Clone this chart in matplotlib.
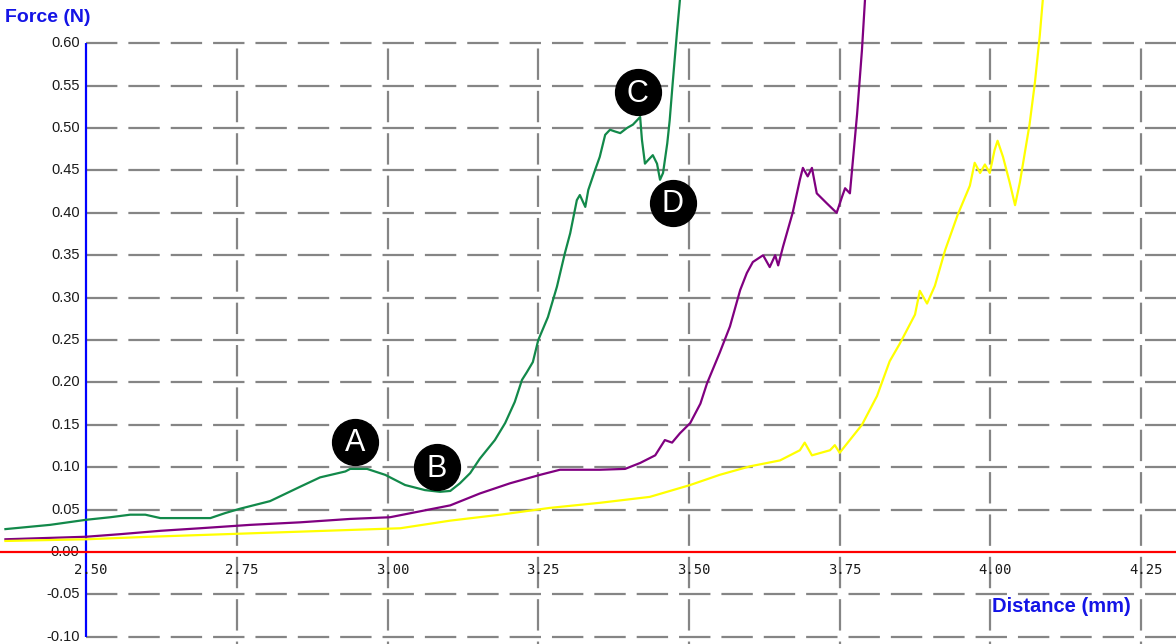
import matplotlib
matplotlib.use("Agg")
import matplotlib.pyplot as plt
import numpy as np

plt.rcParams['font.family'] = ['Liberation Sans', 'DejaVu Sans']
plt.rcParams['lines.scale_dashes'] = False

# force-distance traces (distance in mm, force in N)
green_pts = [
    (2.366, 0.027), (2.440, 0.032), (2.500, 0.038), (2.540, 0.041), (2.573, 0.044),
    (2.598, 0.044), (2.623, 0.040), (2.656, 0.040), (2.706, 0.040), (2.731, 0.046),
    (2.755, 0.051), (2.805, 0.060), (2.855, 0.077), (2.888, 0.088), (2.930, 0.095),
    (2.938, 0.098), (2.966, 0.098), (2.996, 0.091), (3.029, 0.079), (3.062, 0.073),
    (3.087, 0.071), (3.104, 0.072), (3.120, 0.081), (3.137, 0.093), (3.153, 0.110),
    (3.178, 0.132), (3.195, 0.152), (3.211, 0.177), (3.223, 0.203), (3.231, 0.212),
    (3.241, 0.224), (3.250, 0.250), (3.266, 0.277), (3.281, 0.313), (3.294, 0.352),
    (3.303, 0.376), (3.314, 0.415), (3.319, 0.421), (3.328, 0.407), (3.333, 0.427),
    (3.344, 0.450), (3.352, 0.466), (3.361, 0.492), (3.369, 0.498), (3.377, 0.496),
    (3.386, 0.494), (3.397, 0.500), (3.407, 0.504), (3.419, 0.513), (3.422, 0.486),
    (3.427, 0.458), (3.432, 0.462), (3.440, 0.468), (3.447, 0.458), (3.452, 0.439),
    (3.457, 0.447), (3.464, 0.482), (3.468, 0.509), (3.473, 0.553), (3.480, 0.612),
    (3.485, 0.651),
]

purple_pts = [
    (2.366, 0.015), (2.500, 0.018), (2.556, 0.021), (2.623, 0.025), (2.689, 0.028),
    (2.772, 0.032), (2.855, 0.035), (2.938, 0.039), (3.004, 0.041), (3.054, 0.048),
    (3.104, 0.055), (3.153, 0.069), (3.203, 0.081), (3.253, 0.091), (3.286, 0.097),
    (3.352, 0.097), (3.394, 0.098), (3.419, 0.105), (3.444, 0.114), (3.460, 0.132),
    (3.472, 0.129), (3.485, 0.140), (3.502, 0.152), (3.519, 0.175), (3.530, 0.199),
    (3.551, 0.235), (3.568, 0.266), (3.585, 0.309), (3.596, 0.329), (3.606, 0.342),
    (3.623, 0.350), (3.634, 0.336), (3.643, 0.350), (3.648, 0.338), (3.656, 0.360),
    (3.672, 0.400), (3.684, 0.439), (3.689, 0.453), (3.697, 0.443), (3.704, 0.453),
    (3.712, 0.423), (3.729, 0.411), (3.745, 0.400), (3.754, 0.419), (3.759, 0.429),
    (3.767, 0.423), (3.772, 0.462), (3.779, 0.517), (3.787, 0.592), (3.792, 0.651),
]

yellow_pts = [
    (2.366, 0.013), (2.500, 0.015), (2.606, 0.018), (2.689, 0.020), (2.772, 0.022),
    (2.855, 0.024), (2.938, 0.026), (3.021, 0.028), (3.104, 0.037), (3.187, 0.044),
    (3.269, 0.052), (3.352, 0.058), (3.435, 0.065), (3.502, 0.079), (3.551, 0.091),
    (3.601, 0.101), (3.651, 0.108), (3.684, 0.120), (3.692, 0.129), (3.704, 0.114),
    (3.734, 0.120), (3.742, 0.126), (3.750, 0.117), (3.787, 0.150), (3.812, 0.184),
    (3.833, 0.225), (3.850, 0.246), (3.875, 0.280), (3.883, 0.308), (3.895, 0.293),
    (3.908, 0.314), (3.925, 0.356), (3.946, 0.398), (3.966, 0.432), (3.974, 0.459),
    (3.983, 0.447), (3.991, 0.457), (3.999, 0.447), (4.007, 0.474), (4.012, 0.485),
    (4.021, 0.466), (4.032, 0.436), (4.041, 0.409), (4.049, 0.436), (4.065, 0.504),
    (4.074, 0.554), (4.082, 0.609), (4.087, 0.651),
]

x_ticks = [2.50, 2.75, 3.00, 3.25, 3.50, 3.75, 4.00, 4.25]
y_ticks = [-0.10, -0.05, 0.00, 0.05, 0.10, 0.15, 0.20, 0.25, 0.30,
           0.35, 0.40, 0.45, 0.50, 0.55, 0.60]

# lettered markers on the green trace
marker_letters = ['A', 'B', 'C', 'D']
marker_x = [2.946, 3.082, 3.415, 3.473]
marker_y = [0.130, 0.100, 0.542, 0.412]

fig = plt.figure(figsize=(11.76, 6.44), dpi=100)
ax = fig.add_axes([0, 0, 1, 1])
ax.set_xlim(2.357, 4.308)
ax.set_ylim(-0.1085, 0.651)
ax.axis('off')

# dashed grid: 31 px dash / 11 px gap; vertical gaps centred on the horizontal lines
dash, gap = 22.6, 7.9
ax.hlines([t for t in y_ticks if t != 0], 2.5, 4.308, color='#858585',
          linewidth=1.6, linestyle=(0, (dash, gap)), zorder=1)
for t in x_ticks[1:]:
    ax.plot([t, t], [0.6, -0.1085], color='#858585', linewidth=1.6,
            linestyle=(dash + gap / 2, (dash, gap)), zorder=1)

# axis lines
ax.vlines(2.5, -0.1, 0.6, color='#0000ff', linewidth=1.6, zorder=2)
ax.axhline(0, color='#ff0000', linewidth=1.6, zorder=6)

for t in y_ticks:
    ax.text(2.489, t, f'{t:.2f}', ha='right', va='center', fontsize=10.5,
            color='#1a1a1a', zorder=5)
for t in x_ticks:
    ax.text(t + 0.008, -0.021, f'{t:.2f}', ha='center', va='center',
            fontsize=10, family='DejaVu Sans Mono', color='#1a1a1a', zorder=5)

for pts, col in [(green_pts, '#12894a'), (purple_pts, '#800080'), (yellow_pts, '#ffff00')]:
    xs, ys = zip(*pts)
    ax.plot(xs, ys, color=col, linewidth=1.6, zorder=4)

for lab, mx, my in zip(marker_letters, marker_x, marker_y):
    ax.plot(mx, my, 'o', color='black', markersize=33, zorder=7)
    ax.text(mx, my - 0.002, lab, ha='center', va='center', color='white',
            fontsize=22, zorder=8)

fig.text(5 / 1176, 1 - 18 / 644, 'Force (N)', ha='left', va='center',
         fontsize=14, fontweight='bold', color='#1414e6')
fig.text(992 / 1176, 1 - 606 / 644, 'Distance (mm)', ha='left', va='center',
         fontsize=14.5, fontweight='bold', color='#1414e6')

plt.savefig('out.png', dpi=100)
